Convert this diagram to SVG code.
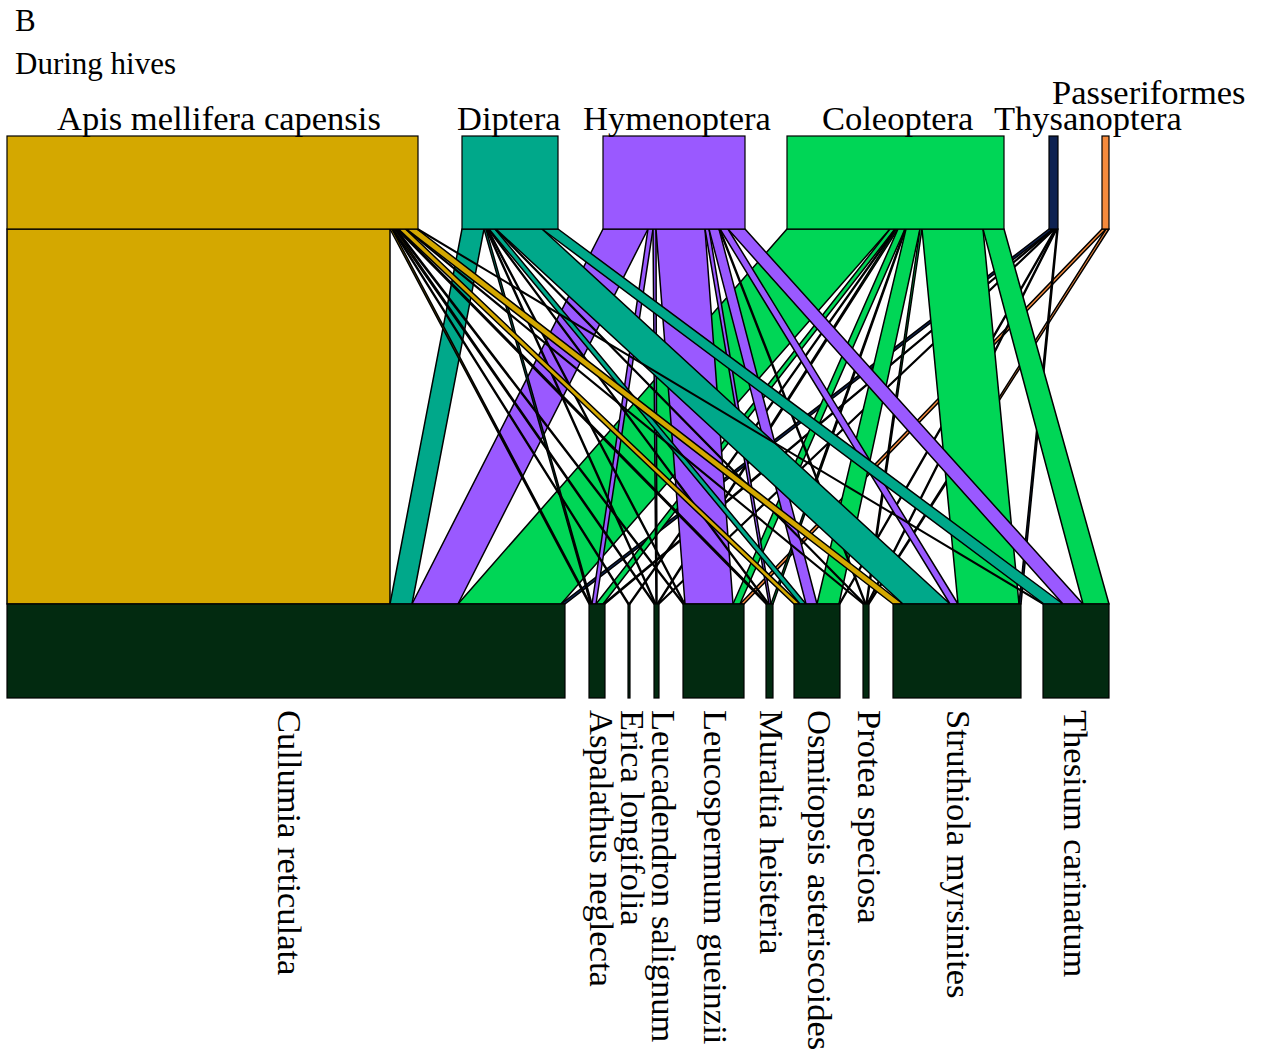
<svg xmlns="http://www.w3.org/2000/svg" width="1269" height="1056" viewBox="0 0 1269 1056">
<style>
text{font-family:"Liberation Serif","Times New Roman",serif;fill:#000}
.ttl{font-size:31px}
.lab{font-size:34.5px}
.lk polygon{stroke:#000;stroke-width:1.5;stroke-linejoin:round}
.box{stroke:#000;stroke-width:1.2}
.ap{fill:#d4a800}.di{fill:#00a88a}.hy{fill:#9a59ff}.co{fill:#00d656}.th{fill:#0e2252}.pa{fill:#f58a3c}.lo{fill:#022a10}
</style>
<rect width="1269" height="1056" fill="#fff"/>
<text class="ttl" x="15" y="31">B</text>
<text class="ttl" x="15" y="74">During hives</text>
<g id="links" class="lk">
<!-- Cullumia -->
<polygon class="ap" points="7,229 390,229 390,604 7,604"/>
<polygon class="di" points="462,229 484,229 412,604 390,604"/>
<polygon class="hy" points="603,229 648,229 458,604 412,604"/>
<polygon class="co" points="787,229 890,229 561,604 458,604"/>
<polygon class="th" points="1049,229 1053,229 565,604 561,604"/>
<!-- Aspalathus -->
<polygon class="ap" points="390,229 392,229 590.5,604 589,604"/>
<polygon class="di" points="484,229 486,229 592,604 590.5,604"/>
<polygon class="hy" points="648,229 653,229 596,604 592,604"/>
<polygon class="co" points="890,229 895,229 603,604 596,604"/>
<polygon class="th" points="1053,229 1054,229 605,604 603,604"/>
<!-- Erica -->
<polygon class="ap" points="392,229 393,229 629,604 628,604"/>
<polygon class="co" points="895,229 896,229 630,604 629,604"/>
<!-- Leucadendron -->
<polygon class="ap" points="393,229 395,229 655,604 654,604"/>
<polygon class="di" points="486,229 487,229 656,604 655,604"/>
<polygon class="hy" points="653,229 656,229 657,604 656,604"/>
<polygon class="co" points="896,229 898,229 658,604 657,604"/>
<polygon class="th" points="1054,229 1055,229 659,604 658,604"/>
<!-- Leucospermum -->
<polygon class="ap" points="395,229 396.5,229 684,604 683,604"/>
<polygon class="di" points="487,229 488,229 685,604 684,604"/>
<polygon class="hy" points="656,229 705,229 733,604 685,604"/>
<polygon class="co" points="898,229 905,229 740,604 733,604"/>
<polygon class="pa" points="1102,229 1106,229 744,604 740,604"/>
<!-- Muraltia -->
<polygon class="ap" points="396.5,229 398.5,229 768,604 766,604"/>
<polygon class="di" points="488,229 489,229 769,604 768,604"/>
<polygon class="hy" points="705,229 709,229 771,604 769,604"/>
<polygon class="co" points="905,229 906,229 773,604 771,604"/>
<!-- Osmitopsis -->
<polygon class="ap" points="398.5,229 405.5,229 800,604 794,604"/>
<polygon class="di" points="489,229 495,229 806,604 800,604"/>
<polygon class="hy" points="709,229 719,229 817,604 806,604"/>
<polygon class="co" points="906,229 920,229 839,604 817,604"/>
<polygon class="th" points="1055,229 1056,229 840,604 839,604"/>
<!-- Protea -->
<polygon class="ap" points="405.5,229 406.5,229 864,604 863,604"/>
<polygon class="di" points="495,229 496,229 865,604 864,604"/>
<polygon class="hy" points="719,229 720,229 866,604 865,604"/>
<polygon class="co" points="920,229 922,229 867,604 866,604"/>
<polygon class="th" points="1056,229 1057,229 868,604 867,604"/>
<polygon class="pa" points="1106,229 1109,229 869,604 868,604"/>
<!-- Struthiola -->
<polygon class="ap" points="406.5,229 417,229 903,604 893,604"/>
<polygon class="di" points="496,229 542,229 950,604 903,604"/>
<polygon class="hy" points="720,229 728,229 958,604 950,604"/>
<polygon class="co" points="922,229 983,229 1019,604 958,604"/>
<polygon class="th" points="1057,229 1058,229 1021,604 1019,604"/>
<!-- Thesium -->
<polygon class="ap" points="417,229 418,229 1044,604 1043,604"/>
<polygon class="di" points="542,229 558,229 1063,604 1044,604"/>
<polygon class="hy" points="728,229 745,229 1083,604 1063,604"/>
<polygon class="co" points="983,229 1004,229 1109,604 1083,604"/>
</g>
<g id="node-apis"><rect class="box ap" x="7" y="136" width="411" height="93"/><text class="lab" x="57" y="130">Apis mellifera capensis</text></g>
<g id="node-diptera"><rect class="box di" x="462" y="136" width="96" height="93"/><text class="lab" x="457" y="130">Diptera</text></g>
<g id="node-hymenoptera"><rect class="box hy" x="603" y="136" width="142" height="93"/><text class="lab" x="583" y="130">Hymenoptera</text></g>
<g id="node-coleoptera"><rect class="box co" x="787" y="136" width="217" height="93"/><text class="lab" x="822" y="130">Coleoptera</text></g>
<g id="node-thysanoptera"><rect class="box th" x="1049" y="136" width="9" height="93"/><text class="lab" x="994" y="130">Thysanoptera</text></g>
<g id="node-passeriformes"><rect class="box pa" x="1102" y="136" width="7" height="93"/><text class="lab" x="1052" y="104">Passeriformes</text></g>
<g id="node-cullumia"><rect class="box lo" x="7" y="604" width="558" height="94"/><text class="lab" transform="translate(278,710) rotate(90)">Cullumia reticulata</text></g>
<g id="node-aspalathus"><rect class="box lo" x="589" y="604" width="16" height="94"/><text class="lab" transform="translate(590,710) rotate(90)">Aspalathus neglecta</text></g>
<g id="node-erica"><rect class="box lo" x="628" y="604" width="2" height="94"/><text class="lab" transform="translate(621,710) rotate(90)">Erica longifolia</text></g>
<g id="node-leucadendron"><rect class="box lo" x="654" y="604" width="5" height="94"/><text class="lab" transform="translate(652,710) rotate(90)">Leucadendron salignum</text></g>
<g id="node-leucospermum"><rect class="box lo" x="683" y="604" width="61" height="94"/><text class="lab" transform="translate(704,710) rotate(90)">Leucospermum gueinzii</text></g>
<g id="node-muraltia"><rect class="box lo" x="766" y="604" width="7" height="94"/><text class="lab" transform="translate(760,710) rotate(90)">Muraltia heisteria</text></g>
<g id="node-osmitopsis"><rect class="box lo" x="794" y="604" width="46" height="94"/><text class="lab" transform="translate(808,710) rotate(90)">Osmitopsis asteriscoides</text></g>
<g id="node-protea"><rect class="box lo" x="863" y="604" width="6" height="94"/><text class="lab" transform="translate(858,710) rotate(90)">Protea speciosa</text></g>
<g id="node-struthiola"><rect class="box lo" x="893" y="604" width="128" height="94"/><text class="lab" transform="translate(947,710) rotate(90)">Struthiola myrsinites</text></g>
<g id="node-thesium"><rect class="box lo" x="1043" y="604" width="66" height="94"/><text class="lab" transform="translate(1064,710) rotate(90)">Thesium carinatum</text></g>
</svg>
